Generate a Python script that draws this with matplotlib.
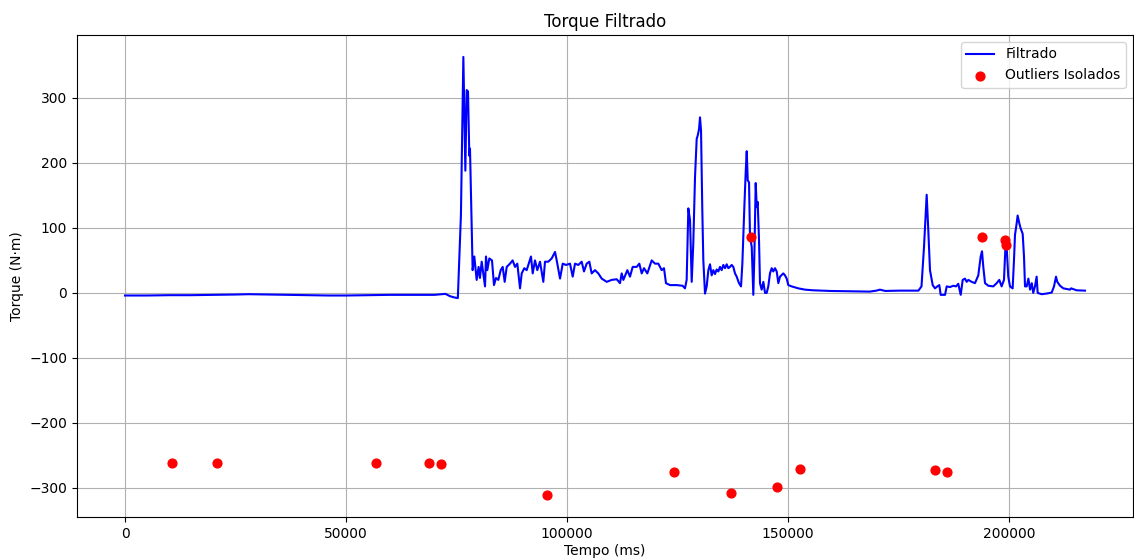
import matplotlib
matplotlib.use("Agg")
import matplotlib.pyplot as plt

# Filtered torque series (time in ms, torque in N·m)
tempo = [0, 5000, 10000, 15000, 20000, 25000, 28000, 32000, 37000, 42000, 46000, 50000,
         55000, 60000, 65000, 70000, 72500, 73500, 74500, 75300,
         76000, 76550, 77000, 77300, 77600, 77900, 78050, 78650, 79030, 79560,
         80000, 80300, 80700, 81060, 81450, 81670, 81970, 82420, 83030, 83480,
         83940, 84460, 85000, 85450, 85900, 86360, 87100, 87700, 88240, 88760,
         89370, 89750, 90340, 90880, 91480, 91850, 92240, 92760, 93280, 93890,
         94640, 95020, 95770, 96530, 97290, 97670, 98420, 99030, 99770, 100680,
         101290, 101810, 102560, 103320, 103840, 104450, 105050, 105580, 106330, 107080,
         107850, 108980, 110110, 111240, 111990, 112370, 112750, 113650, 114250, 114860,
         115770, 116360, 116900, 117420, 118170, 119160, 119910, 120660, 121420, 121940,
         122390, 123300, 124810, 126160, 126690, 127070, 127450, 127830, 128210, 128570,
         128960, 129340, 129570, 129870, 130090, 130320, 130610, 130840, 131220, 131600,
         131980, 132350, 132730, 133100, 133480, 133860, 134240, 134610, 134990, 135360,
         135740, 136130, 136490, 136870, 137260, 137620, 138010, 138390, 138910, 139370,
         139670, 140120, 140440, 140660, 140890, 141180, 141400, 141790, 142150, 142380,
         142690, 142920, 143140, 143440, 143660, 144040, 144420, 144800, 145180, 145540,
         145920, 146310, 146670, 147060, 147440, 147810, 148190, 148940, 149320, 149700,
         150070, 150820, 152330, 153840, 155720, 159500, 164000, 168500, 170000, 170800,
         172000, 175300, 179500, 180200, 180770, 181370, 181740, 182120, 182730, 183250,
         183780, 184230, 184540, 185520, 185900, 186640, 187400, 188010, 188520, 189070,
         189520, 190040, 190420, 190790, 191550, 192300, 193050, 193590, 193890, 194180,
         194570, 195320, 196450, 197210, 197800, 198330, 198860, 199160, 199460, 199830,
         200220, 200820, 201120, 201350, 201730, 201950, 202330, 202640, 203090, 203390,
         203620, 204000, 204380, 204760, 205150, 205480, 205870, 206250, 206480, 207380,
         208520, 209650, 210180, 210630, 210920, 211540, 212290, 213800, 214030, 215310,
         217190]
torque = [-4, -4, -3.5, -3.5, -3, -2.5, -2, -2.5, -3, -3.5, -4, -4,
          -3.5, -3, -3, -3, -1.5, -5, -7, -8,
          120, 363, 188, 312, 310, 211, 222, 35, 56, 20,
          40, 23, 48, 30, 10, 56, 35, 53, 50, 12,
          23, 20, 35, 40, 17, 40, 45, 50, 40, 45,
          7, 30, 38, 35, 48, 56, 30, 50, 35, 48,
          17, 48, 48, 53, 63, 50, 22, 45, 43, 45,
          25, 45, 43, 48, 33, 45, 48, 30, 35, 30,
          22, 17, 20, 21, 15, 30, 20, 35, 25, 40,
          40, 45, 30, 38, 30, 50, 45, 45, 35, 38,
          15, 12, 12, 11, 7, 20, 130, 112, 17, 76,
          178, 237, 242, 252, 270, 250, 127, 50, -1, 10,
          35, 44, 27, 35, 29, 36, 33, 40, 35, 43,
          38, 44, 38, 40, 43, 40, 30, 25, 15, 10,
          45, 132, 188, 218, 173, 170, 86, 71, -3, 56,
          169, 132, 140, 81, 15, 5, 17, 0, 0, 10,
          30, 38, 33, 38, 33, 15, 25, 30, 27, 22,
          12, 10, 7, 5, 4, 3, 2.5, 2, 3.5, 5,
          3, 3.5, 3.5, 10, 71, 151, 96, 35, 12, 7,
          10, 12, -3, -3, 10, 9, 11, 10, 14, -3,
          20, 22, 17, 20, 17, 15, 27, 56, 64, 40,
          15, 11, 10, 15, 20, 10, 20, 66, 71, 25,
          10, 7, 50, 89, 107, 119, 107, 99, 91, 56,
          10, 10, 22, 5, 15, 0, 10, 25, 0, -2,
          -1, 0.5, 10, 25, 17, 11, 7, 5, 7, 4,
          3.5]

# Isolated outliers
outlier_tempo = [10630, 20810, 56790, 68780, 71490, 95470, 124210, 137100, 147510,
                 152710, 183250, 185970, 141630, 193890, 199200, 199300]
outlier_torque = [-262, -262, -262, -262, -263, -311, -275, -308, -298,
                  -271, -272, -275, 86, 86, 81, 74]

fig = plt.figure(figsize=(11.34, 5.59), dpi=100)
ax = fig.add_axes([77 / 1134, 1 - 517 / 559, (1133 - 77) / 1134, (517 - 35) / 559])
ax.plot(tempo, torque, color='blue', linewidth=1.5, label='Filtrado')
ax.scatter(outlier_tempo, outlier_torque, color='red', s=40, label='Outliers Isolados', zorder=3)
ax.set_title('Torque Filtrado')
ax.set_xlabel('Tempo (ms)', labelpad=2)
ax.set_ylabel('Torque (N·m)')
ax.grid(True)
ax.legend(loc='upper right')
fig.savefig('out.png', dpi=100)
